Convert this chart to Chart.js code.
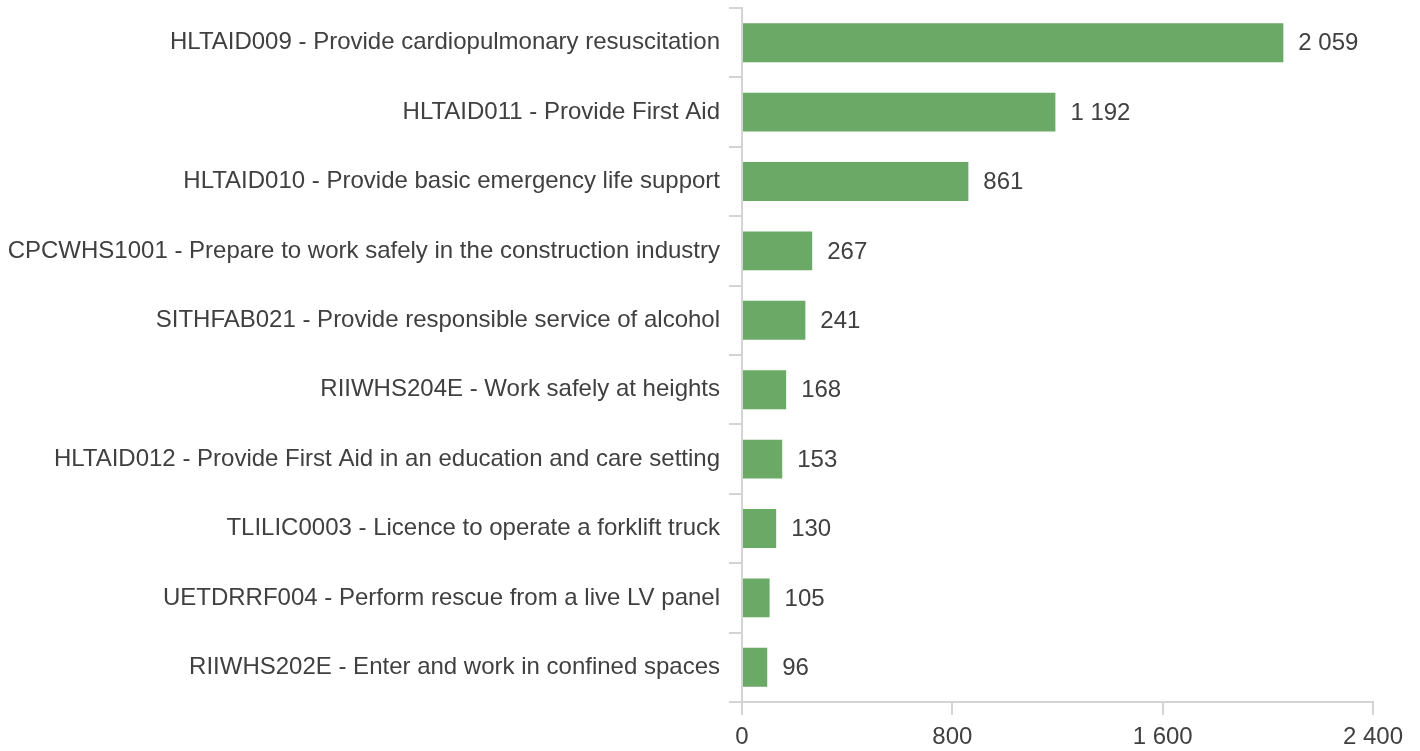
<!DOCTYPE html>
<html>
<head>
<meta charset="utf-8">
<script src="https://cdn.jsdelivr.net/npm/chart.js@4"></script>
<style>
  html, body { margin: 0; padding: 0; background: #fff; }
  #wrap { width: 1420px; height: 751px; }
</style>
</head>
<body>
<div id="wrap"><canvas id="unitsChart"></canvas></div>
<script>
const units = [
    'HLTAID009 - Provide cardiopulmonary resuscitation',
    'HLTAID011 - Provide First Aid',
    'HLTAID010 - Provide basic emergency life support',
    'CPCWHS1001 - Prepare to work safely in the construction industry',
    'SITHFAB021 - Provide responsible service of alcohol',
    'RIIWHS204E - Work safely at heights',
    'HLTAID012 - Provide First Aid in an education and care setting',
    'TLILIC0003 - Licence to operate a forklift truck',
    'UETDRRF004 - Perform rescue from a live LV panel',
    'RIIWHS202E - Enter and work in confined spaces'
];
const enrolments = [2059, 1192, 861, 267, 241, 168, 153, 130, 105, 96];
const xTicks = [0, 800, 1600, 2400];

const textColor = '#404040';
const axisColor = '#d4d4d4';

// thousands with a space, like "2 059"
function fmt(n) {
    return String(n).replace(/\B(?=(\d{3})+(?!\d))/g, ' ');
}

// value label at the end of each bar
const valueLabels = {
    id: 'valueLabels',
    afterDatasetsDraw(chart) {
        const ctx = chart.ctx;
        const meta = chart.getDatasetMeta(0);
        ctx.save();
        ctx.font = '24px "Liberation Sans", Arial, sans-serif';
        ctx.fillStyle = textColor;
        ctx.textAlign = 'left';
        ctx.textBaseline = 'middle';
        meta.data.forEach(function (bar, i) {
            ctx.fillText(fmt(enrolments[i]), bar.x + 15, bar.y + 1);
        });
        ctx.restore();
    }
};

Chart.defaults.font.family = '"Liberation Sans", Arial, sans-serif';
Chart.defaults.font.size = 24;
Chart.defaults.color = textColor;

new Chart(document.getElementById('unitsChart'), {
    type: 'bar',
    data: {
        labels: units,
        datasets: [{
            data: enrolments,
            backgroundColor: '#6aa966',
            borderWidth: 0,
            categoryPercentage: 1,
            barPercentage: 0.56
        }]
    },
    options: {
        indexAxis: 'y',
        responsive: true,
        maintainAspectRatio: false,
        animation: false,
        layout: { padding: { top: 8, right: 47, left: 0, bottom: 0 } },
        plugins: {
            legend: { display: false },
            tooltip: { enabled: false }
        },
        scales: {
            y: {
                border: { color: axisColor, width: 2 },
                grid: { drawOnChartArea: false, color: axisColor, lineWidth: 2, tickLength: 13 },
                ticks: { padding: 9, color: textColor },
                afterFit: function (scale) {
                    scale.width = 742;
                    scale.paddingTop = 0;
                    scale.paddingBottom = 0;
                }
            },
            x: {
                min: 0,
                max: 2400,
                afterBuildTicks: function (scale) {
                    scale.ticks = xTicks.map(function (v) { return { value: v }; });
                },
                border: { color: axisColor, width: 2 },
                grid: { drawOnChartArea: false, color: axisColor, lineWidth: 2, tickLength: 13 },
                ticks: {
                    padding: 8,
                    color: textColor,
                    maxRotation: 0,
                    callback: function (v) { return fmt(v); }
                },
                afterFit: function (scale) {
                    scale.height = 49;
                    scale.paddingLeft = 0;
                    scale.paddingRight = 0;
                }
            }
        }
    },
    plugins: [valueLabels]
});
</script>
</body>
</html>
